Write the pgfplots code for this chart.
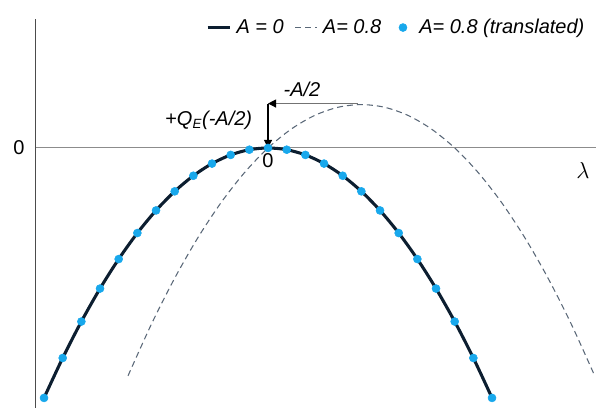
\documentclass[border=0pt]{standalone}
\usepackage{fontspec}
\setmainfont{Liberation Sans}
\usepackage{pgfplots}
\pgfplotsset{compat=1.18}
\usetikzlibrary{arrows.meta}

\definecolor{solidc}{RGB}{12,30,48}
\definecolor{dashc}{RGB}{90,104,120}
\definecolor{dotc}{RGB}{24,168,236}
\newcommand\f{\fontsize{15}{18}\selectfont}

\pgfplotsset{
  lineleg/.style={legend image code/.code={\draw[##1] (0pt,0pt) -- (16.5pt,0pt);}},
  dotleg/.style={legend image code/.code={
      \path[draw=none, fill=none] (0pt,0pt) rectangle (16.5pt,0.1pt);
      \draw[##1] plot coordinates {(8.25pt,0pt)};}},
}

\begin{document}
\begin{tikzpicture}
\begin{axis}[
  name=ax,
  scale only axis,
  width=420pt, height=291.75pt,
  xmin=-1.243, xmax=1.757, ymin=-1.498, ymax=0.743,
  axis x line=middle, axis y line=left,
  x axis line style={-, black!45, line width=0.75pt},
  y axis line style={-, black!70, line width=0.75pt},
  hide obscured x ticks=false, hide obscured y ticks=false,
  xtick={0}, ytick={0},
  major tick length=0pt,
  tick label style={font=\f},
  /pgf/number format/assume math mode=true,
  yticklabel style={xshift=-5pt},
  xticklabel style={yshift=-1pt},
  clip=false,
  legend columns=3,
  legend style={draw=none, fill=none, inner sep=0pt, font=\f\itshape,
    at={(axis description cs:1,0.978)}, anchor=east, xshift=-6pt,
    /tikz/every odd column/.append style={column sep=1.5pt},
    /tikz/every even column/.append style={column sep=5.5pt},
    nodes={inner sep=2.5pt}},
]
\addplot[solidc, line width=2.3pt, smooth, lineleg]
  coordinates {
    (-1.2,-1.44) (-1.1,-1.21) (-1.0,-1.00) (-0.9,-0.81) (-0.8,-0.64)
    (-0.7,-0.49) (-0.6,-0.36) (-0.5,-0.25) (-0.4,-0.16) (-0.3,-0.09)
    (-0.2,-0.04) (-0.1,-0.01) (0,0) (0.1,-0.01) (0.2,-0.04) (0.3,-0.09)
    (0.4,-0.16) (0.5,-0.25) (0.6,-0.36) (0.7,-0.49) (0.8,-0.64)
    (0.9,-0.81) (1.0,-1.00) (1.1,-1.21) (1.2,-1.44)
  };
\addlegendentry{A = 0}
\addplot[dashc, line width=0.8pt, smooth, dash pattern=on 4.5pt off 3pt, lineleg]
  coordinates {
    (-0.75,-1.3125) (-0.625,-1.015625) (-0.5,-0.75) (-0.375,-0.515625)
    (-0.25,-0.3125) (-0.125,-0.140625) (0,0) (0.125,0.109375)
    (0.25,0.1875) (0.375,0.234375) (0.5,0.25) (0.625,0.234375)
    (0.75,0.1875) (0.875,0.109375) (1.0,0) (1.125,-0.140625)
    (1.25,-0.3125) (1.375,-0.515625) (1.5,-0.75) (1.625,-1.015625)
    (1.75,-1.3125)
  };
\addlegendentry{A= 0.8}
\addplot[only marks, mark=*, mark size=3pt, dotc, mark options={draw=dotc, fill=dotc}, dotleg]
  coordinates {
    (-1.2,-1.44) (-1.1,-1.21) (-1.0,-1.00) (-0.9,-0.81) (-0.8,-0.64)
    (-0.7,-0.49) (-0.6,-0.36) (-0.5,-0.25) (-0.4,-0.16) (-0.3,-0.09)
    (-0.2,-0.04) (-0.1,-0.01) (0,0) (0.1,-0.01) (0.2,-0.04) (0.3,-0.09)
    (0.4,-0.16) (0.5,-0.25) (0.6,-0.36) (0.7,-0.49) (0.8,-0.64)
    (0.9,-0.81) (1.0,-1.00) (1.1,-1.21) (1.2,-1.44)
  };
\addlegendentry{A= 0.8 (translated)}
% annotation arrows
\draw[black!55, line width=0.8pt, -{Triangle[length=6pt,width=6pt,black]}]
  (axis cs:0.48,0.256) -- (axis cs:0,0.256);
\draw[black, line width=0.8pt, -{Triangle[length=6pt,width=6pt]}]
  (axis cs:0,0.256) -- (axis cs:0,0);
\node[font=\f\itshape] at (axis cs:0.182,0.34) {-A/2};
\node[font=\f, anchor=east] at (axis cs:-0.06,0.161) {+\textit{Q}$_{\textit{\fontsize{10}{12}\selectfont E}}$\textit{(-A/2)}};
\node[font=\fontsize{16}{18}\selectfont] at (axis cs:1.687,-0.127) {$\lambda$};
\end{axis}
\path (ax.south west) ++(-27pt,0) coordinate (bl);
\path (ax.north east) ++(0,14.25pt) coordinate (tr);
\pgfresetboundingbox
\path (bl) rectangle (tr);
\end{tikzpicture}
\end{document}
